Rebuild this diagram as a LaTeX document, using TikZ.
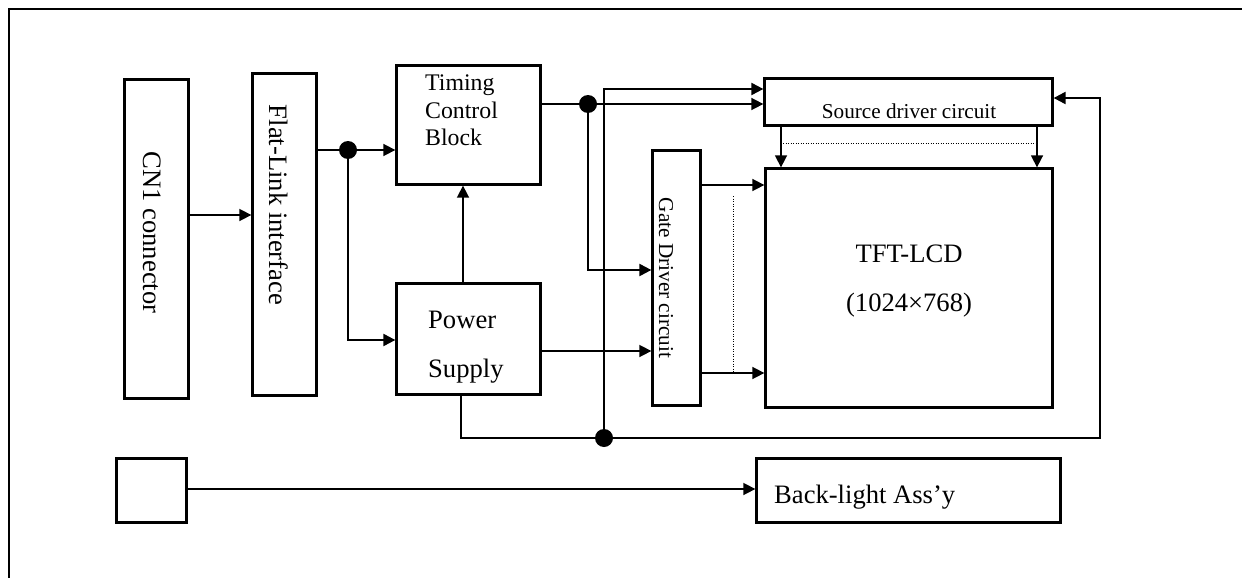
\documentclass[tikz,border=0pt]{standalone}
\usepackage{fontspec}
\setmainfont{Liberation Serif}
\usetikzlibrary{arrows.meta}
\begin{document}
\begin{tikzpicture}[x=1pt,y=-1pt,
 box/.style={draw,line width=2.3pt,inner sep=0pt},
 conn/.style={line width=1.6pt},
 arr/.style={conn,-{Triangle[length=12pt,width=12pt]}},
 bus/.style={line width=2.2pt,-{Triangle[length=12pt,width=12pt]}},
 dotline/.style={line width=0.9pt,dash pattern=on 1pt off 1.5pt},
 jdot/.style={circle,fill,inner sep=0pt,minimum size=18pt},
 big/.style={inner sep=0pt,font=\fontsize{26.6}{49}\selectfont},
 mid/.style={inner sep=0pt,font=\fontsize{23.8}{27.5}\selectfont},
 small/.style={inner sep=0pt,font=\fontsize{21.2}{25}\selectfont}]
\useasboundingbox (0,0) rectangle (1242,578);
\draw[line width=2.3pt] (1242,9) -- (9,9) -- (9,578);
% boxes
\node[box,minimum width=64pt,minimum height=319pt] (cn1) at (156.5,239) {};
\node[box,minimum width=64pt,minimum height=322pt] (flat) at (284.5,234.5) {};
\node[box,minimum width=144pt,minimum height=119pt] (timing) at (468.5,125) {};
\node[box,minimum width=144pt,minimum height=111pt] (power) at (468.5,339) {};
\node[box,minimum width=48pt,minimum height=255pt] (gate) at (676.5,278) {};
\node[box,minimum width=288pt,minimum height=47pt] (source) at (908.5,102) {};
\node[box,minimum width=287pt,minimum height=239pt] (tft) at (909,288) {};
\node[box,minimum width=70pt,minimum height=64pt] (blsw) at (151.5,490.5) {};
\node[box,minimum width=304pt,minimum height=64pt] (bl) at (908.5,490.5) {};
% texts
\node[big,rotate=-90] (cn1t) at (152.5,232.5) {CN1 connector};
\node[big,rotate=-90] (flatt) at (279,205) {Flat-Link interface};
\node[mid,anchor=north west,align=left] (timingt) at (425,75) {Timing\\Control\\Block};
\node[big,anchor=north west,align=left] (powert) at (428,311) {Power\\Supply};
\node[small,rotate=-90] (gatet) at (666,278) {Gate Driver circuit};
\node[small,anchor=base] (sourcet) at (909,118) {Source driver circuit};
\node[big,anchor=north,align=center] (tftt) at (909,245) {TFT-LCD\\(1024×768)};
\node[big,anchor=base west] (blt) at (774,503) {Back-light Ass’y};
% junctions
\coordinate (j1) at (348,150);
\coordinate (j2) at (588,104);
\coordinate (j3) at (604,438);
\coordinate (busR) at (1100,438);
% connectors
\draw[arr] (cn1.east|-0,215) -- (flat.west|-0,215);
\draw[conn] (flat.east|-j1) -- (j1);
\draw[arr] (j1) -- (timing.west|-j1);
\draw[bus] (j1) |- (power.west|-0,340);
\draw[arr] (power.north-|463,0) -- (timing.south-|463,0);
\draw[conn] (timing.east|-j2) -- (j2);
\draw[arr] (j2) -- (source.west|-j2);
\draw[bus] (j2) |- (gate.west|-0,270);
\draw[bus] (j3) |- (source.west|-0,89);
\draw[bus] (power.south-|461,0) |- (j3) -- (busR) |- (source.east|-0,98);
\draw[arr] (power.east|-0,351) -- (gate.west|-0,351);
\draw[arr] (gate.east|-0,185) -- (tft.west|-0,185);
\draw[arr] (gate.east|-0,373) -- (tft.west|-0,373);
\draw[dotline] (733,196) -- (733,372);
\draw[arr] (source.south-|781,0) -- (tft.north-|781,0);
\draw[arr] (source.south-|1037,0) -- (tft.north-|1037,0);
\draw[dotline] (783,143) -- (1037,143);
\draw[arr] (blsw.east|-0,489) -- (bl.west|-0,489);
% dots
\node[jdot] (d1) at (j1) {};
\node[jdot] (d2) at (j2) {};
\node[jdot] (d3) at (j3) {};
\end{tikzpicture}
\end{document}
